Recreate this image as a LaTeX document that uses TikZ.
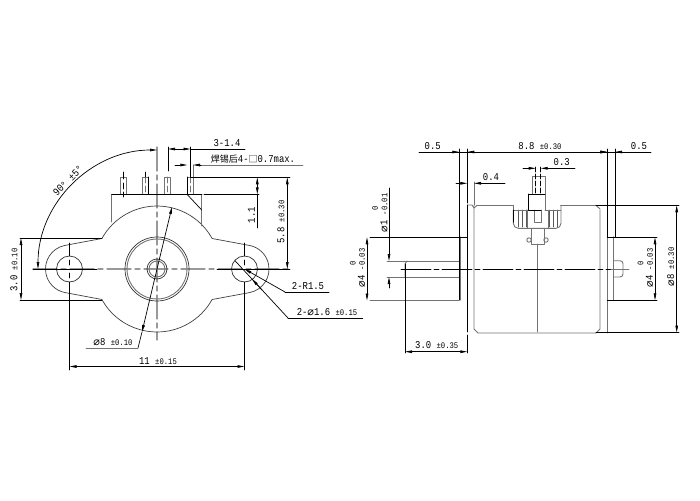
\documentclass[tikz,border=0pt]{standalone}
\usepackage{fontspec}
\setmonofont[FakeStretch=0.85]{Liberation Mono}
\newfontfamily\cjk{Noto Sans CJK SC}
\newfontfamily\symf{DejaVu Sans}
\usetikzlibrary{arrows.meta}
\newcommand{\tol}[1]{{\fontsize{8.5}{9}\selectfont #1}}
\newcommand{\dia}{{\symf\fontsize{11}{11}\selectfont ⌀}}
\tikzset{
  partline/.style={color=black!55,line width=0.9pt},
  dimline/.style={color=black,line width=0.7pt},
  axisline/.style={color=black!40,line width=1.1pt,dash pattern=on 24pt off 4pt on 5pt off 4pt},
  dimtext/.style={inner sep=0pt,font=\ttfamily\fontsize{10.5}{11}\selectfont}
}
\begin{document}
\begin{tikzpicture}[line cap=round,line join=round,>={Triangle[length=7pt,width=2.6pt]},x=1pt,y=1pt,yscale=-1]
\useasboundingbox (0,0) rectangle (700,500);
% front view
\draw[axisline] (33,269) -- (290,269);
\draw[axisline] (157,147) -- (157,340);
\draw[color=black!75,line width=0.7pt] (101.9,238.5) -- (64.5,245.5) arc[start angle=258,end angle=102,radius=24] -- (101.9,299.5) arc[start angle=151,end angle=29,radius=63] -- (250,292.5) arc[start angle=78,end angle=-78,radius=24] -- (212.1,238.5) arc[start angle=-29,end angle=-151,radius=63];
\foreach \x in {69.5,244.5}
\draw[color=black!80,line width=0.7pt] (\x,269) circle (13);
\draw[color=black!80,line width=0.7pt] (157,269) circle (32);
\draw[partline] (157,269) circle (30);
\draw[color=black!80,line width=0.7pt] (157,269) circle (10);
\draw[partline] (157,269) circle (8);
% terminals
\draw[partline] (111.7,194.3) -- (111.7,222);
\draw[partline] (201.7,194.3) -- (201.7,226);
\draw[dimline] (187,194.3) -- (201.7,210);
\foreach \x/\w in {120.5/6,142/6,164.5/6,187.3/5.7}
\draw[partline] (\x,194.3) -- (\x,177) -- ++(\w,0) -- ++(0,17.3);
\foreach \x in {145,167.5,190.5}
\draw[partline,dash pattern=on 6pt off 3pt] (\x,177) -- (\x,194.3);
\draw[dimline] (123.5,172) -- (123.5,179) (123.5,183) -- (123.5,189) (123.5,192) -- (123.5,197);
\draw[dimline] (145,172) -- (145,177) (148,177) -- (148,194.3);
\draw[dimline] (168,147) -- (168,171);
\draw[dimline] (187.3,177) -- (187.3,194.3);
\draw[dimline] (190.5,147) -- (190.5,177);
\draw[partline] (193,165) -- (193,177);
\draw[dimline] (111.7,194.3) -- (202,194.3) (204,194.3) -- (259,194.3);
% front dimensions
\draw[dimline] (33,269) -- (97,269) (217,269) -- (290,269);
\draw[dimline] (69.5,243) -- (69.5,256) (69.5,260) -- (69.5,265) (69.5,273) -- (69.5,278) (69.5,282) -- (69.5,370);
\draw[dimline] (244.5,243) -- (244.5,256) (244.5,260) -- (244.5,265) (244.5,282) -- (244.5,370);
\draw[dimline,<->] (38,269) arc[start angle=180,end angle=270,radius=119];
\node[dimtext,rotate=45] (anglelabel) at (68,181) {90° ±5°};
\draw[dimline,<->] (69.5,366.5) -- (244.5,366.5);
\node[dimtext] (widthlabel) at (158,361) {11 \tol{±0.15}};
\draw[dimline] (20,238) -- (101.9,238) (20,300) -- (101.9,300);
\draw[dimline,<->] (21,238) -- (21,300);
\node[dimtext,rotate=90] (earlabel) at (14,270) {3.0 \tol{±0.10}};
\draw[dimline,->] (157,269) -- (172,207);
\draw[dimline,->] (157,269) -- (142,332);
\draw[dimline] (142,332) -- (138,348);
\draw[partline] (86,348) -- (138,348);
\node[dimtext] (bodylabel) at (113,342) {\dia 8 \tol{±0.10}};
\draw[dimline,->] (285,292) -- (244.5,269);
\draw[dimline] (285,292) -- (329,292);
\node[dimtext] (radiuslabel) at (308,286) {2-R1.5};
\draw[dimline] (235,260.7) -- (288,318);
\draw[dimline,->] (262,290) -- (252,279);
\draw[dimline] (288,318) -- (362.7,318);
\node[dimtext] (holelabel) at (327,312.5) {2-\dia 1.6 \tol{±0.15}};
\draw[dimline,<->] (168,149) -- (190.5,149);
\draw[dimline] (190.5,149) -- (245,149);
\node[dimtext] (pitchlabel) at (227,143) {3-1.4};
\draw[dimline,->] (175,165) -- (187.3,165);
\draw[dimline,->] (201.7,165) -- (193,165);
\draw[partline] (201.7,165) -- (303,165);
\node[dimtext] (pinlabel) at (253,159.5) {{\cjk\fontsize{9}{10}\selectfont 焊锡后}4-{\cjk\fontsize{9}{10}\selectfont □}0.7max.};
\draw[dimline] (190.5,177.3) -- (290,177.3);
\draw[dimline,<->] (257.3,177.3) -- (257.3,194.3);
\draw[dimline] (257.3,194.3) -- (257.3,228);
\node[dimtext,rotate=90] (leadlabel) at (251.5,215) {1.1};
\draw[dimline,<->] (287.3,177.3) -- (287.3,269);
\node[dimtext,rotate=90] (heightlabel) at (281,222) {5.8 \tol{±0.30}};
% side view
\draw[partline] (387,261) -- (460,261) (387,277) -- (460,277);
\draw[partline] (405,277) -- (405,264) -- (407,261);
\draw[partline,line width=1.2pt] (460,237) -- (460,300);
\draw[partline] (370,300.5) -- (459,300.5);
\draw[partline] (477,205.3) -- (513.3,205.3) (560.7,205.3) -- (596,205.3);
\draw[partline] (467.3,205) -- (472,205) -- (474,208) -- (477,205.3);
\draw[partline] (474,205) -- (474,329) -- (478,333) -- (596,333);
\draw[partline] (600,210) -- (600,329) -- (596,333);
\draw[partline] (596,205.3) -- (600,209);
\draw[partline] (607.3,205.3) -- (607.3,333);
\draw[partline,line width=1.2pt] (613.5,237) -- (613.5,300);
\draw[partline,rounded corners=3pt] (613.5,260.7) -- (623,260.7) -- (623,277) -- (613.5,277);
\draw[partline] (537,244) -- (537,332);
% gear
\draw[partline,rounded corners=5pt] (513.3,210) -- (513.3,228.3) -- (561,228.3) -- (561,205.3);
\foreach \x in {518,522,526,549,553,557}
\draw[color=black!65,line width=0.8pt] (\x,210) -- (\x,227);
\draw[partline] (513.3,205.3) -- (513.3,210) -- (528,210) (545,210) -- (561,210);
\draw[partline] (532.3,194) -- (532.3,176) -- (545.7,176) -- (545.7,194);
\draw[partline] (545,194) -- (545,210) -- (548,210) -- (548,228) -- (544,228) -- (544,244) -- (531,244) -- (531,228) -- (527,228) -- (527,210);
\draw[partline] (534,210) -- (534,222) -- (541,222) -- (541,210);
\foreach \x in {529,546}
\draw[partline] (\x,240) circle (2.2);
\draw[dimline] (528.3,194) -- (545,194);
\draw[dimline] (528.3,194) -- (528.3,210) -- (541,210);
\draw[dimline] (513.3,210) -- (513.3,222);
\draw[dimline,dash pattern=on 5pt off 2pt] (535.7,167) -- (535.7,194);
\draw[dimline,dash pattern=on 5pt off 2pt] (540.7,167) -- (540.7,194);
% side centre line
\draw[dimline,dash pattern=on 30pt off 3pt on 5pt off 3pt] (401,269) -- (611,269);
\draw[partline] (611,269) -- (629,269);
% side dimensions
\draw[dimline] (459.3,149) -- (459.3,300);
\draw[dimline] (467.3,149) -- (467.3,203) (467.3,205) -- (467.3,332) (467.3,335) -- (467.3,353);
\draw[dimline] (607.3,149) -- (607.3,237);
\draw[dimline] (615,149) -- (615,237);
\draw[dimline] (370,237.3) -- (467.3,237.3);
\draw[dimline] (596,205.3) -- (679,205.3);
\draw[dimline] (596,332.5) -- (679,332.5);
\draw[dimline] (607.3,237.3) -- (657,237.3) (607.3,300.3) -- (657,300.3);
\draw[dimline] (419,152) -- (651,152);
\draw[dimline,->] (445,152) -- (459.3,152);
\draw[dimline,<->] (467.3,152) -- (607.3,152);
\draw[dimline,<-] (615,152) -- (630,152);
\draw[dimline,->] (595,152) -- (607.3,152);
\node[dimtext] (leftflangelabel) at (432.7,146.5) {0.5};
\node[dimtext] (lengthlabel) at (540,146.5) {8.8 \tol{±0.30}};
\node[dimtext] (rightflangelabel) at (639,146.5) {0.5};
\draw[partline] (474,182) -- (474,205);
\draw[dimline,->] (456,183.3) -- (467.3,183.3);
\draw[dimline,->] (505,183.3) -- (474,183.3);
\node[dimtext] (steplabel) at (491,177.5) {0.4};
\draw[dimline,->] (523,168.3) -- (535.7,168.3);
\draw[dimline,->] (575,168.3) -- (540.7,168.3);
\node[dimtext] (shaftlabel) at (561.7,162.5) {0.3};
\draw[dimline,<->] (367,237.3) -- (367,300.5);
\node[dimtext,rotate=90] (lefthublabel) at (361.5,268) {\dia 4 \tol{-0.03}};
\node[dimtext,rotate=90] (lefthubzero) at (352.7,263) {\tol{0}};
\draw[dimline,->] (389,188) -- (389,261);
\draw[dimline,->] (389,288) -- (389,277);
\node[dimtext,rotate=90] (gearshaftlabel) at (384,213) {\dia 1 \tol{-0.01}};
\node[dimtext,rotate=90] (gearshaftzero) at (375,208) {\tol{0}};
\draw[dimline,<->] (405,351.7) -- (467.3,351.7);
\draw[dimline] (405,264) -- (405,353);
\node[dimtext] (shaftlenlabel) at (436.7,345.5) {3.0 \tol{±0.35}};
\draw[dimline,<->] (655,237.3) -- (655,300.3);
\node[dimtext,rotate=90] (righthublabel) at (649.5,268) {\dia 4 \tol{-0.03}};
\node[dimtext,rotate=90] (righthubzero) at (640.5,263) {\tol{0}};
\draw[dimline,<->] (676.7,205.3) -- (676.7,332.5);
\node[dimtext,rotate=90] (diameterlabel) at (670.7,267) {\dia 8 \tol{±0.30}};
\end{tikzpicture}
\end{document}
